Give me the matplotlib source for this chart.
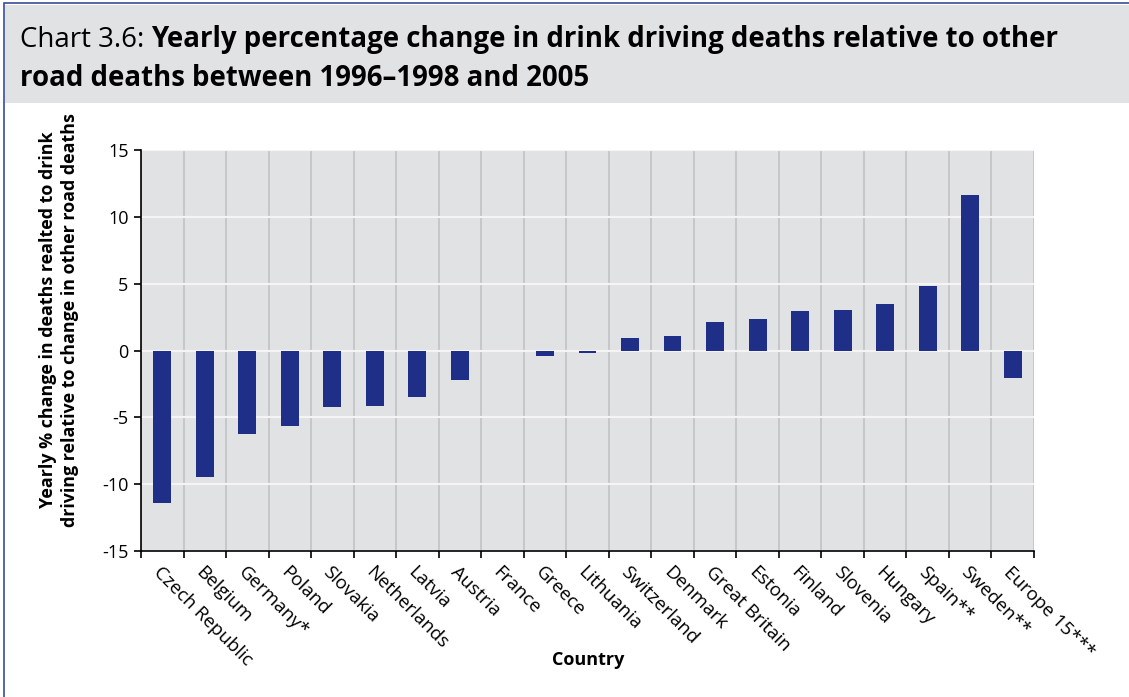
import matplotlib.pyplot as plt
import matplotlib.patches as patches
import numpy as np

# Data
countries = ["Czech Republic", "Belgium", "Germany*", "Poland", "Slovakia",
             "Netherlands", "Latvia", "Austria", "France", "Greece",
             "Lithuania", "Switzerland", "Denmark", "Great Britain", "Estonia",
             "Finland", "Slovenia", "Hungary", "Spain**", "Sweden**",
             "Europe 15***"]
values = [-11.4, -9.45, -6.25, -5.65, -4.2, -4.15, -3.45, -2.2, 0.0, -0.4,
          -0.17, 0.95, 1.05, 2.15, 2.35, 2.95, 3.05, 3.5, 4.85, 11.6, -2.05]
yticks = [-15, -10, -5, 0, 5, 10, 15]

plt.rcParams['font.family'] = ['Open Sans', 'DejaVu Sans']

W, H = 1129, 697
fig = plt.figure(figsize=(W / 100, H / 100), dpi=100)

# title band and frame
fig.patches.append(patches.Rectangle((5 / W, 1 - 103 / H), 1, 98 / H,
                                     transform=fig.transFigure,
                                     facecolor='#e1e2e4', edgecolor='none',
                                     zorder=0))
fig.patches.append(patches.Rectangle((4 / W, -0.01), 1.1, 1 - 3 / H + 0.01,
                                     transform=fig.transFigure,
                                     facecolor='none', edgecolor='#3c4a9c',
                                     linewidth=1.2, zorder=1))

# title: regular prefix followed by bold text
t1 = fig.text(20 / W, 1 - 47 / H, "Chart 3.6: ", fontsize=19.9,
              va='baseline', ha='left')
fig.canvas.draw()
bb = t1.get_window_extent()
fig.text(bb.x1 / W, 1 - 47 / H,
         "Yearly percentage change in drink driving deaths relative to other",
         fontsize=19.9, fontweight='bold', va='baseline', ha='left')
fig.text(20 / W, 1 - 86 / H, "road deaths between 1996\u20131998 and 2005",
         fontsize=19.9, fontweight='bold', va='baseline', ha='left')

ax = fig.add_axes([141 / W, 1 - 551 / H, (1034 - 141) / W, (551 - 150) / H])
ax.set_facecolor('#e1e2e4')

x = np.arange(len(countries))
ax.bar(x, values, width=0.42, color='#1f2f87', zorder=3)

ax.set_xlim(-0.5, len(countries) - 0.5)
ax.set_ylim(-15, 15)
ax.set_yticks(yticks)
ax.set_yticklabels([str(v) for v in yticks], fontsize=13)

# category boundaries carry ticks and vertical grid
bounds = np.arange(len(countries) + 1) - 0.5
ax.set_xticks(bounds)
ax.set_xticklabels([])
ax.set_xticks(x, minor=True)
ax.set_xticklabels(countries, minor=True, rotation=-45, ha='left', va='top',
                   rotation_mode='anchor', fontsize=13.5)
ax.tick_params(axis='x', which='minor', length=0, pad=9)
ax.tick_params(axis='x', which='major', length=5, width=1.2, direction='out')
ax.tick_params(axis='y', length=5, width=1.2, direction='out', pad=4)

ax.grid(axis='x', which='major', color='#c4c5c8', linewidth=1.3, zorder=1)
ax.grid(axis='y', color='#f4f4f5', linewidth=1.6, zorder=1)
ax.set_axisbelow(True)

for s in ['top', 'right']:
    ax.spines[s].set_visible(False)
for s in ['left', 'bottom']:
    ax.spines[s].set_linewidth(1.2)
    ax.spines[s].set_color('black')

fig.text(59 / W, 1 - 320 / H,
         "Yearly % change in deaths realted to drink\n"
         "driving relative to change in other road deaths",
         rotation=90, ha='center', va='center', multialignment='center',
         fontsize=12.9, fontweight='bold', linespacing=1.3)
fig.text(588 / W, 1 - 660 / H, "Country", ha='center', va='center',
         fontsize=13, fontweight='bold')

fig.savefig('out.png', dpi=100)
